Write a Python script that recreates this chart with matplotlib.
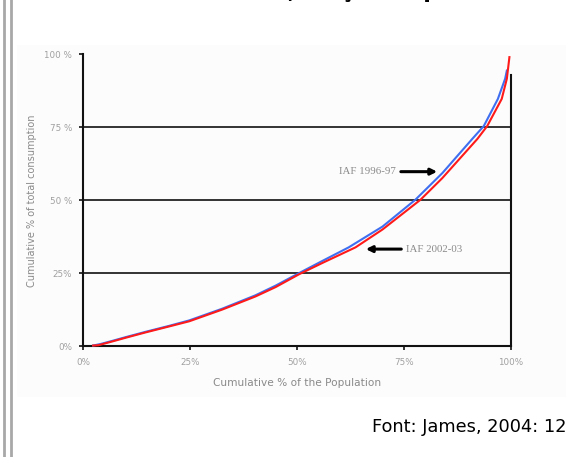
import matplotlib
matplotlib.use("Agg")
import matplotlib.pyplot as plt
from matplotlib.patches import Rectangle
from matplotlib.lines import Line2D

# ---- data ----
pop_9697 = [2.3, 4, 6.8, 10, 14.6, 20, 24.8, 32.5, 40.3, 45, 50.5, 56, 62.1, 70, 77.7, 84, 91.0, 93.7, 97.0, 98.7, 99.1]
cons_9697 = [0.3, 0.8, 1.9, 3.2, 5.0, 7.0, 8.9, 12.9, 17.5, 20.8, 25.1, 29.3, 33.9, 41.0, 50.2, 59.3, 71.0, 75.4, 84.7, 91.6, 94.4]

pop_0203 = [2.3, 3.5, 6.8, 10, 14.6, 20, 24.8, 32.5, 40.3, 45, 50.5, 56, 63.7, 70, 78.9, 84, 92.2, 94.5, 97.9, 99.1, 99.7]
cons_0203 = [0.3, 0.4, 1.7, 3.0, 4.8, 6.8, 8.6, 12.6, 17.1, 20.3, 24.7, 28.6, 33.9, 40.0, 50.2, 57.6, 71.0, 75.4, 84.7, 91.6, 99.0]

ticks = [0, 25, 50, 75, 100]
xtick_labels = ["0%", "25%", "50%", "75%", "100%"]
ytick_labels = ["0%", "25%", "50 %", "75 %", "100 %"]
grid_levels = [25, 50, 75]

label_9697 = "IAF 1996-97"
label_0203 = "IAF 2002-03"
title = "Curvas de Lorenz, Moçambique"
source = "Font: James, 2004: 12"

W, H = 581, 457
fig = plt.figure(figsize=(W / 100, H / 100), dpi=100)
fig.patch.set_facecolor("white")

# faint chart panel
panel = Rectangle((17 / W, 1 - 397 / H), (566 - 17) / W, (397 - 45) / H,
                  transform=fig.transFigure, facecolor="#fcfcfc", edgecolor="none")
panel.set_zorder(-5)
fig.add_artist(panel)
# double left border
for xp in (3.5, 10.5):
    fig.add_artist(Line2D([xp / W, xp / W], [0, 1], transform=fig.transFigure,
                          color="#a8a8a8", lw=2.0))

ax = fig.add_axes([83.3 / W, 1 - 346.4 / H, 427.4 / W, 292.2 / H])
ax.set_zorder(2)
ax.set_facecolor("none")
ax.set_xlim(0, 100)
ax.set_ylim(0, 100)

for s in ("top", "right"):
    ax.spines[s].set_visible(False)
for s in ("left", "bottom"):
    ax.spines[s].set_linewidth(1.5)
    ax.spines[s].set_color("#111111")

for g in grid_levels:
    ax.axhline(g, color="#111111", lw=1.2, zorder=1)
ax.plot([100, 100], [0, 93], color="#111111", lw=1.5, zorder=1, clip_on=False)

ax.plot(pop_9697, cons_9697, color="#3f6ff0", lw=1.5, zorder=3, clip_on=False)
ax.plot(pop_0203, cons_0203, color="#ff1a1a", lw=1.5, zorder=4, clip_on=False)

ax.set_xticks(ticks)
ax.set_xticklabels(xtick_labels)
ax.set_yticks(ticks)
ax.set_yticklabels(ytick_labels)
ax.tick_params(axis="both", direction="out", length=3, width=1.2, color="#111111",
               labelsize=6.3, labelcolor="#a0a0a0", pad=5)
for t in ax.get_xticklabels() + ax.get_yticklabels():
    t.set_fontfamily("DejaVu Sans")

ax.set_xlabel("Cumulative % of the Population", fontsize=7.6, color="#8a8a8a",
              family="DejaVu Sans", labelpad=8)
ax.set_ylabel("Cumulative % of total consumption", fontsize=7.0, color="#8a8a8a",
              family="DejaVu Sans", labelpad=5)

# annotations
ax.annotate("", xy=(82.8, 59.8), xytext=(74.3, 59.8),
            arrowprops=dict(arrowstyle="-|>", lw=2.2, color="black", mutation_scale=9,
                            shrinkA=0, shrinkB=0))
ax.text(73.2, 59.8, label_9697, ha="right", va="center", fontsize=7.8,
        color="#8a8a8a", family="Liberation Serif")
ax.annotate("", xy=(66.1, 33.3), xytext=(74.4, 33.3),
            arrowprops=dict(arrowstyle="-|>", lw=2.2, color="black", mutation_scale=9,
                            shrinkA=0, shrinkB=0))
ax.text(75.6, 33.3, label_0203, ha="left", va="center", fontsize=7.8,
        color="#8a8a8a", family="Liberation Serif")

# title clipped at the top edge
fig.text(462 / W, 1 + 1.5 / H, title, ha="right", va="baseline", fontsize=15.8,
         fontweight="bold", color="black", family="DejaVu Sans")

# source
fig.text(566 / W, 1 - 427 / H, source, ha="right", va="center", fontsize=12.8,
         color="black", family="DejaVu Sans")

fig.savefig("out.png", dpi=100, facecolor="white")
